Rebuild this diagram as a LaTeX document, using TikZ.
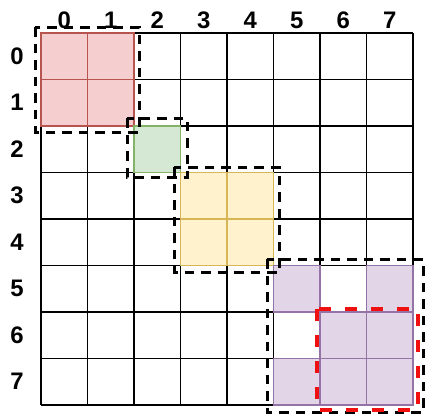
\documentclass[tikz,border=0pt]{standalone}
\usepackage{fontspec}
\setmainfont{Liberation Sans}
\definecolor{redfill}{HTML}{F5CFCF}
\definecolor{redline}{HTML}{B85450}
\definecolor{greenfill}{HTML}{D5E8D4}
\definecolor{greenline}{HTML}{82B366}
\definecolor{yellowfill}{HTML}{FFF2CC}
\definecolor{yellowline}{HTML}{D6B656}
\definecolor{purplefill}{HTML}{E1D5E7}
\definecolor{purpleline}{HTML}{9673A6}
\definecolor{boxred}{HTML}{F01010}
\begin{document}
\begin{tikzpicture}[x=1bp,y=-1bp,
  gridline/.style={black,line width=1.9bp},
  cellred/.style={fill=redfill,draw=redline,line width=1.3bp},
  cellgreen/.style={fill=greenfill,draw=greenline,line width=1.3bp},
  cellyellow/.style={fill=yellowfill,draw=yellowline,line width=1.3bp},
  cellpurple/.style={fill=purplefill,draw=purpleline,line width=1.3bp},
  blockbox/.style={draw=black,line width=3bp,dash pattern=on 9.5bp off 7bp},
  hilite/.style={draw=boxred,line width=4.5bp,dash pattern=on 12bp off 14bp},
  lbl/.style={font=\fontsize{24}{28}\selectfont\bfseries,inner sep=0pt,anchor=center}]
\useasboundingbox (0,0) rectangle (425,415);
\def\cs{46.5}
% grid
\foreach \i in {0,...,8}{
  \draw[gridline] (41+\i*\cs,33) -- (41+\i*\cs,405);
  \draw[gridline] (41,33+\i*\cs) -- (413,33+\i*\cs);
}
% coloured cells
\foreach \c/\r/\s in {0/0/cellred,1/0/cellred,0/1/cellred,1/1/cellred,
  2/2/cellgreen,
  3/3/cellyellow,4/3/cellyellow,3/4/cellyellow,4/4/cellyellow,
  5/5/cellpurple,7/5/cellpurple,6/6/cellpurple,7/6/cellpurple,
  5/7/cellpurple,6/7/cellpurple,7/7/cellpurple}{
  \draw[\s] (41+\c*\cs,33+\r*\cs) rectangle ++(\cs,\cs);
}
% labels
\foreach \k in {0,...,7}{
  \node[lbl] (col\k) at (64.25+\k*\cs,20) {\k};
  \node[lbl] (row\k) at (17,56.25+\k*\cs) {\k};
}
% dashed boxes
\draw[blockbox] (35,27) rectangle (139,132);
\draw[blockbox] (127,118) rectangle (187,177);
\draw[blockbox] (174,167) rectangle (279,272);
\draw[blockbox] (267,259) rectangle (423,412);
\draw[hilite] (317,309) rectangle (418,410);
\end{tikzpicture}
\end{document}
